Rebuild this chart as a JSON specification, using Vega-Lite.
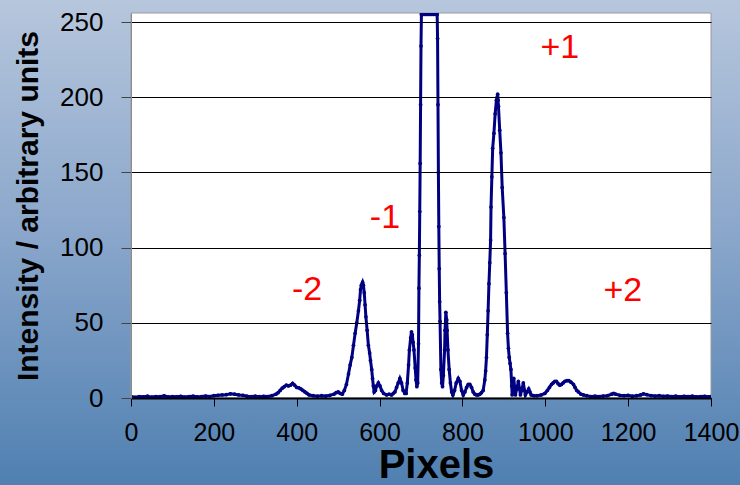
{
  "$schema": "https://vega.github.io/schema/vega-lite/v6.json",
  "width": 580,
  "height": 385,
  "autosize": {"type": "none"},
  "padding": {"left": 131, "top": 13, "right": 29, "bottom": 87},
  "background": "#8aa7cb",
  "config": {"view": {"stroke": null}, "font": "Liberation Sans"},
  "datasets": {
    "profile": [
      {"px": 0, "intensity": 1}, {"px": 10, "intensity": 0.5}, {"px": 20, "intensity": 1}, {"px": 30, "intensity": 0.8},
      {"px": 40, "intensity": 1.2}, {"px": 50, "intensity": 0.6}, {"px": 60, "intensity": 1}, {"px": 70, "intensity": 0.9},
      {"px": 80, "intensity": 1.4}, {"px": 90, "intensity": 0.7}, {"px": 100, "intensity": 1}, {"px": 110, "intensity": 0.8},
      {"px": 120, "intensity": 1.1}, {"px": 130, "intensity": 0.6}, {"px": 140, "intensity": 1}, {"px": 150, "intensity": 1.2},
      {"px": 160, "intensity": 0.8}, {"px": 170, "intensity": 1}, {"px": 180, "intensity": 1.3}, {"px": 190, "intensity": 1},
      {"px": 200, "intensity": 1.5}, {"px": 210, "intensity": 1.8}, {"px": 220, "intensity": 2}, {"px": 230, "intensity": 2.2},
      {"px": 240, "intensity": 2.8}, {"px": 250, "intensity": 2.5}, {"px": 260, "intensity": 2}, {"px": 270, "intensity": 1.8},
      {"px": 280, "intensity": 1.2}, {"px": 290, "intensity": 1}, {"px": 300, "intensity": 1.2}, {"px": 310, "intensity": 0.9},
      {"px": 320, "intensity": 1.1}, {"px": 330, "intensity": 1}, {"px": 340, "intensity": 1.5}, {"px": 350, "intensity": 2.5},
      {"px": 355, "intensity": 3.5}, {"px": 360, "intensity": 5}, {"px": 365, "intensity": 6.5}, {"px": 370, "intensity": 7.5},
      {"px": 375, "intensity": 8.5}, {"px": 380, "intensity": 8}, {"px": 385, "intensity": 8.5}, {"px": 390, "intensity": 9.8},
      {"px": 395, "intensity": 8.5}, {"px": 400, "intensity": 7}, {"px": 405, "intensity": 6.8}, {"px": 410, "intensity": 6},
      {"px": 415, "intensity": 5}, {"px": 420, "intensity": 4}, {"px": 425, "intensity": 3}, {"px": 430, "intensity": 2},
      {"px": 440, "intensity": 1.5}, {"px": 450, "intensity": 1.2}, {"px": 460, "intensity": 1.5}, {"px": 470, "intensity": 1.3},
      {"px": 480, "intensity": 1.8}, {"px": 490, "intensity": 2.5}, {"px": 495, "intensity": 3.5}, {"px": 500, "intensity": 4},
      {"px": 505, "intensity": 3}, {"px": 510, "intensity": 2.5}, {"px": 515, "intensity": 5}, {"px": 520, "intensity": 9},
      {"px": 525, "intensity": 16}, {"px": 529, "intensity": 22}, {"px": 533, "intensity": 27}, {"px": 537, "intensity": 35},
      {"px": 541, "intensity": 43}, {"px": 545, "intensity": 50}, {"px": 549, "intensity": 58}, {"px": 552, "intensity": 65},
      {"px": 554, "intensity": 72}, {"px": 556, "intensity": 75}, {"px": 559, "intensity": 77}, {"px": 561, "intensity": 75},
      {"px": 563, "intensity": 70}, {"px": 565, "intensity": 62}, {"px": 567, "intensity": 54}, {"px": 570, "intensity": 45},
      {"px": 573, "intensity": 35}, {"px": 576, "intensity": 30}, {"px": 578, "intensity": 25}, {"px": 581, "intensity": 19},
      {"px": 583, "intensity": 13}, {"px": 585, "intensity": 8}, {"px": 587, "intensity": 4}, {"px": 590, "intensity": 5},
      {"px": 593, "intensity": 8}, {"px": 597, "intensity": 10}, {"px": 601, "intensity": 8}, {"px": 605, "intensity": 5},
      {"px": 610, "intensity": 3}, {"px": 617, "intensity": 2}, {"px": 623, "intensity": 2.5}, {"px": 629, "intensity": 2},
      {"px": 633, "intensity": 3}, {"px": 637, "intensity": 4}, {"px": 641, "intensity": 7}, {"px": 645, "intensity": 10},
      {"px": 649, "intensity": 13}, {"px": 653, "intensity": 10}, {"px": 657, "intensity": 5}, {"px": 661, "intensity": 3},
      {"px": 664, "intensity": 3}, {"px": 667, "intensity": 10}, {"px": 670, "intensity": 22}, {"px": 672, "intensity": 32},
      {"px": 675, "intensity": 40}, {"px": 677, "intensity": 44}, {"px": 679, "intensity": 42}, {"px": 681, "intensity": 37},
      {"px": 683, "intensity": 32}, {"px": 686, "intensity": 20}, {"px": 688, "intensity": 12}, {"px": 690, "intensity": 7.5},
      {"px": 692, "intensity": 10}, {"px": 694, "intensity": 36}, {"px": 695, "intensity": 73}, {"px": 696, "intensity": 95},
      {"px": 697, "intensity": 124}, {"px": 698, "intensity": 156}, {"px": 699, "intensity": 195}, {"px": 700, "intensity": 234},
      {"px": 701, "intensity": 255}, {"px": 705, "intensity": 255}, {"px": 710, "intensity": 255}, {"px": 715, "intensity": 255},
      {"px": 720, "intensity": 255}, {"px": 725, "intensity": 255}, {"px": 730, "intensity": 255}, {"px": 735, "intensity": 255},
      {"px": 739, "intensity": 255}, {"px": 740, "intensity": 239}, {"px": 741, "intensity": 195}, {"px": 742, "intensity": 150},
      {"px": 743, "intensity": 114}, {"px": 744, "intensity": 86}, {"px": 745, "intensity": 64}, {"px": 746, "intensity": 51},
      {"px": 748, "intensity": 19}, {"px": 750, "intensity": 10}, {"px": 752, "intensity": 7.5}, {"px": 754, "intensity": 15},
      {"px": 757, "intensity": 32}, {"px": 758, "intensity": 45}, {"px": 760, "intensity": 57}, {"px": 762, "intensity": 52},
      {"px": 763, "intensity": 45}, {"px": 765, "intensity": 32}, {"px": 768, "intensity": 19}, {"px": 771, "intensity": 10},
      {"px": 774, "intensity": 4}, {"px": 777, "intensity": 2}, {"px": 781, "intensity": 5}, {"px": 785, "intensity": 10},
      {"px": 790, "intensity": 13}, {"px": 794, "intensity": 11}, {"px": 798, "intensity": 5}, {"px": 802, "intensity": 2},
      {"px": 806, "intensity": 4}, {"px": 810, "intensity": 7}, {"px": 814, "intensity": 9}, {"px": 818, "intensity": 9},
      {"px": 822, "intensity": 7}, {"px": 826, "intensity": 4}, {"px": 830, "intensity": 2.5}, {"px": 834, "intensity": 2},
      {"px": 838, "intensity": 2}, {"px": 842, "intensity": 2.5}, {"px": 846, "intensity": 3.5}, {"px": 850, "intensity": 5},
      {"px": 854, "intensity": 12}, {"px": 856, "intensity": 18}, {"px": 858, "intensity": 27}, {"px": 860, "intensity": 42},
      {"px": 862, "intensity": 58}, {"px": 864, "intensity": 76}, {"px": 866, "intensity": 90}, {"px": 868, "intensity": 105},
      {"px": 869, "intensity": 127}, {"px": 871, "intensity": 147}, {"px": 873, "intensity": 166}, {"px": 876, "intensity": 176},
      {"px": 879, "intensity": 189}, {"px": 882, "intensity": 198}, {"px": 884, "intensity": 200}, {"px": 885, "intensity": 202},
      {"px": 886, "intensity": 198}, {"px": 887, "intensity": 194}, {"px": 890, "intensity": 178}, {"px": 893, "intensity": 163},
      {"px": 896, "intensity": 140}, {"px": 900, "intensity": 120}, {"px": 903, "intensity": 96}, {"px": 906, "intensity": 70},
      {"px": 909, "intensity": 43}, {"px": 911, "intensity": 33}, {"px": 913, "intensity": 27}, {"px": 915, "intensity": 23},
      {"px": 917, "intensity": 19}, {"px": 919, "intensity": 8}, {"px": 920, "intensity": 2}, {"px": 922, "intensity": 8},
      {"px": 924, "intensity": 13}, {"px": 926, "intensity": 7}, {"px": 928, "intensity": 2}, {"px": 931, "intensity": 6},
      {"px": 935, "intensity": 11}, {"px": 938, "intensity": 6}, {"px": 940, "intensity": 2}, {"px": 943, "intensity": 5},
      {"px": 947, "intensity": 10}, {"px": 950, "intensity": 5}, {"px": 952, "intensity": 2}, {"px": 956, "intensity": 4},
      {"px": 960, "intensity": 6}, {"px": 963, "intensity": 4}, {"px": 966, "intensity": 2}, {"px": 972, "intensity": 1.5},
      {"px": 980, "intensity": 1.5}, {"px": 990, "intensity": 2}, {"px": 999, "intensity": 3}, {"px": 1005, "intensity": 5},
      {"px": 1010, "intensity": 7}, {"px": 1015, "intensity": 9}, {"px": 1019, "intensity": 10}, {"px": 1023, "intensity": 11},
      {"px": 1027, "intensity": 11}, {"px": 1031, "intensity": 9.5}, {"px": 1035, "intensity": 8.5}, {"px": 1039, "intensity": 9},
      {"px": 1043, "intensity": 10}, {"px": 1047, "intensity": 11}, {"px": 1052, "intensity": 11.5}, {"px": 1057, "intensity": 11.5},
      {"px": 1062, "intensity": 10.5}, {"px": 1068, "intensity": 9}, {"px": 1072, "intensity": 7}, {"px": 1076, "intensity": 5},
      {"px": 1080, "intensity": 4}, {"px": 1086, "intensity": 2.5}, {"px": 1092, "intensity": 2}, {"px": 1100, "intensity": 1.5},
      {"px": 1110, "intensity": 1}, {"px": 1120, "intensity": 1.2}, {"px": 1130, "intensity": 1}, {"px": 1140, "intensity": 1.3},
      {"px": 1150, "intensity": 1.5}, {"px": 1160, "intensity": 2.5}, {"px": 1165, "intensity": 3}, {"px": 1170, "intensity": 2.5},
      {"px": 1180, "intensity": 1.8}, {"px": 1190, "intensity": 1.5}, {"px": 1200, "intensity": 1.8}, {"px": 1210, "intensity": 1.2},
      {"px": 1220, "intensity": 1.5}, {"px": 1230, "intensity": 2}, {"px": 1237, "intensity": 2.8}, {"px": 1245, "intensity": 2.2},
      {"px": 1255, "intensity": 1.6}, {"px": 1265, "intensity": 1.3}, {"px": 1275, "intensity": 1.5}, {"px": 1285, "intensity": 1.1},
      {"px": 1295, "intensity": 1.3}, {"px": 1305, "intensity": 1}, {"px": 1315, "intensity": 1.2}, {"px": 1325, "intensity": 0.8},
      {"px": 1335, "intensity": 1.1}, {"px": 1345, "intensity": 1}, {"px": 1355, "intensity": 1.2}, {"px": 1365, "intensity": 0.8},
      {"px": 1375, "intensity": 1}, {"px": 1385, "intensity": 1.1}, {"px": 1395, "intensity": 0.8}, {"px": 1400, "intensity": 1}
    ],
    "orders": [
      {"px": 425, "intensity": 72, "order": "-2"},
      {"px": 613, "intensity": 120, "order": "-1"},
      {"px": 1035, "intensity": 233, "order": "+1"},
      {"px": 1187, "intensity": 71, "order": "+2"}
    ]
  },
  "layer": [
    {
      "data": {"values": [{}]},
      "mark": {
        "type": "rect",
        "clip": false,
        "fill": {
          "gradient": "linear", "x1": 0, "y1": 0, "x2": 0, "y2": 1,
          "stops": [{"offset": 0, "color": "#b7c7dd"}, {"offset": 0.5, "color": "#88a5ca"}, {"offset": 1, "color": "#4e7fb0"}]
        }
      },
      "encoding": {
        "x": {"datum": -330, "type": "quantitative", "scale": {"domain": [0, 1400], "nice": false, "zero": false}},
        "x2": {"datum": 1500},
        "y": {"datum": -62, "type": "quantitative", "scale": {"domain": [0, 256], "nice": false, "zero": false}},
        "y2": {"datum": 268}
      }
    },
    {
      "data": {"values": [{}]},
      "mark": {"type": "rect", "clip": false, "fill": "white", "stroke": "#9a9a9a", "strokeWidth": 1},
      "encoding": {
        "x": {"datum": 0, "type": "quantitative", "scale": {"domain": [0, 1400], "nice": false, "zero": false}},
        "x2": {"datum": 1400},
        "y": {"datum": 0, "type": "quantitative", "scale": {"domain": [0, 256], "nice": false, "zero": false}},
        "y2": {"datum": 256}
      }
    },
    {
      "data": {"name": "profile"},
      "mark": {
        "type": "line", "color": "#000080", "strokeWidth": 3, "clip": true,
        "point": {"filled": true, "size": 14, "color": "#000080"}
      },
      "encoding": {
        "x": {
          "field": "px", "type": "quantitative",
          "scale": {"domain": [0, 1400], "nice": false, "zero": false},
          "axis": {
            "values": [0, 200, 400, 600, 800, 1000, 1200, 1400], "format": "d", "grid": false,
            "domainColor": "black", "domainWidth": 2, "tickColor": "black", "tickSize": 8, "tickWidth": 1,
            "labelFontSize": 25, "labelColor": "black", "labelPadding": 14, "labelFlush": false,
            "title": "Pixels", "titleFontSize": 40, "titleFontWeight": "bold", "titleColor": "black",
            "titlePadding": 0, "titleX": 305, "zindex": 1
          }
        },
        "y": {
          "field": "intensity", "type": "quantitative",
          "scale": {"domain": [0, 256], "nice": false, "zero": false},
          "axis": {
            "values": [0, 50, 100, 150, 200, 250], "grid": true, "gridColor": "black", "gridWidth": 1,
            "domainColor": "#8a8a8a", "domainWidth": 1, "tickColor": "#444444", "tickSize": 10,
            "labelFontSize": 26, "labelColor": "black", "labelPadding": 18,
            "title": "Intensity / arbitrary units", "titleFontSize": 30, "titleFontWeight": "bold",
            "titleColor": "black", "titlePadding": 16, "zindex": 1
          }
        }
      }
    },
    {
      "data": {"name": "orders"},
      "mark": {"type": "text", "color": "red", "fontSize": 34, "align": "center", "baseline": "middle", "font": "Liberation Sans"},
      "encoding": {
        "x": {"field": "px", "type": "quantitative", "scale": {"domain": [0, 1400], "nice": false, "zero": false}},
        "y": {"field": "intensity", "type": "quantitative", "scale": {"domain": [0, 256], "nice": false, "zero": false}},
        "text": {"field": "order"}
      }
    }
  ]
}
